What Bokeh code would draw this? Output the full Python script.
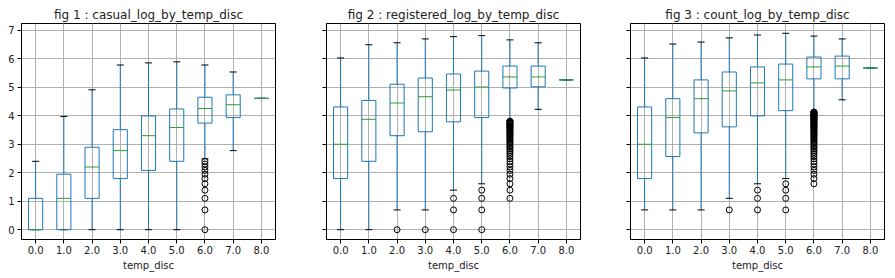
from bokeh.plotting import figure
from bokeh.layouts import row
from bokeh.models import Range1d, FixedTicker
from bokeh.embed import file_html
from bokeh.resources import INLINE

categories = [0, 1, 2, 3, 4, 5, 6, 7, 8]
tick_labels = ["0.0", "1.0", "2.0", "3.0", "4.0", "5.0", "6.0", "7.0", "8.0"]
y_ticks = [0, 1, 2, 3, 4, 5, 6, 7]

# fig 1 : casual
casual_lo = [0, 0, 0, 0, 0, 0, 2.4849, 2.7726, 4.6052]
casual_q1 = [0, 0, 1.0986, 1.7918, 2.0794, 2.3979, 3.7377, 3.9318, 4.6052]
casual_med = [0, 1.0986, 2.1972, 2.7726, 3.2958, 3.5835, 4.2485, 4.3820, 4.6052]
casual_q3 = [1.0986, 1.9459, 2.8904, 3.5066, 3.9890, 4.2341, 4.6444, 4.7274, 4.6052]
casual_hi = [2.3979, 3.9703, 4.9053, 5.7746, 5.8493, 5.8861, 5.7746, 5.5294, 4.6052]
casual_fliers = {
    6: [0.0, 0.6931, 1.0986, 1.3863, 1.6094, 1.7918, 1.9459, 2.0794, 2.1972, 2.3026, 2.3979],
}

# fig 2 : registered
registered_lo = [0, 0, 0.6931, 0.6931, 1.3863, 1.6094, 3.8286, 4.2195, 5.2523]
registered_q1 = [1.7918, 2.3979, 3.2958, 3.4340, 3.7842, 3.9318, 4.9698, 5.0106, 5.2523]
registered_med = [2.9957, 3.8712, 4.4427, 4.6634, 4.8978, 5.0039, 5.3566, 5.3566, 5.2523]
registered_q3 = [4.3041, 4.5326, 5.0999, 5.3181, 5.4596, 5.5607, 5.7366, 5.7366, 5.2523]
registered_hi = [6.0210, 6.4846, 6.5539, 6.6896, 6.7685, 6.8035, 6.6554, 6.5539, 5.2523]
registered_fliers = {
    2: [0.0],
    3: [0.0],
    4: [0.0, 0.6931, 1.0986],
    5: [0.0, 0.6931, 1.0986, 1.3863],
    6: [1.0986, 1.3863, 1.6094, 1.7918, 1.9459, 2.0794, 2.1972, 2.3026, 2.3979,
        2.4849, 2.5649, 2.6391, 2.7081, 2.7726, 2.8332, 2.8904, 2.9444, 2.9957,
        3.0445, 3.0910, 3.1355, 3.1781, 3.2189, 3.2581, 3.2958, 3.3322, 3.3673,
        3.4012, 3.4340, 3.4657, 3.4965, 3.5264, 3.5553, 3.5835, 3.6109, 3.6376,
        3.6636, 3.6889, 3.7136, 3.7377, 3.7612, 3.7842, 3.8067],
}

# fig 3 : count
count_lo = [0.6931, 0.6931, 0.6931, 1.0986, 1.6094, 1.7918, 4.1431, 4.5539, 5.6664]
count_q1 = [1.7918, 2.5649, 3.3945, 3.6055, 3.9890, 4.1744, 5.2883, 5.2883, 5.6664]
count_med = [2.9957, 3.9318, 4.5951, 4.8675, 5.1475, 5.2523, 5.7071, 5.7366, 5.6664]
count_q3 = [4.3041, 4.5951, 5.2523, 5.5294, 5.7071, 5.8081, 6.0544, 6.0868, 5.6664]
count_hi = [6.0210, 6.5103, 6.5793, 6.7250, 6.8265, 6.8865, 6.7890, 6.6896, 5.6664]
count_fliers = {
    3: [0.6931],
    4: [0.6931, 1.0986, 1.3863],
    5: [0.6931, 1.0986, 1.3863, 1.6094],
    6: [1.6094, 1.7918, 1.9459, 2.0794, 2.1972, 2.3026, 2.3979, 2.4849, 2.5649,
        2.6391, 2.7081, 2.7726, 2.8332, 2.8904, 2.9444, 2.9957, 3.0445, 3.0910,
        3.1355, 3.1781, 3.2189, 3.2581, 3.2958, 3.3322, 3.3673, 3.4012, 3.4340,
        3.4657, 3.4965, 3.5264, 3.5553, 3.5835, 3.6109, 3.6376, 3.6636, 3.6889,
        3.7136, 3.7377, 3.7612, 3.7842, 3.8067, 3.8286, 3.8501, 3.8712, 3.8918,
        3.9120, 3.9318, 3.9512, 3.9703, 3.9890, 4.0073, 4.0254, 4.0431, 4.0604,
        4.0775, 4.0943, 4.1109, 4.1271],
}

BLUE = "#1f77b4"
GREEN = "#2ca02c"
FONT = "DejaVu Sans"
TXT = "#222222"

y_range = Range1d(-0.344, 7.23)


def make_panel(title, lo, q1, med, q3, hi, fliers, left, right, show_labels):
    p = figure(frame_width=254, frame_height=216,
               min_border_left=left, min_border_right=right,
               min_border_top=23, min_border_bottom=39,
               x_range=Range1d(-0.5, 8.5), y_range=y_range,
               output_backend="svg", toolbar_location=None, title=title)
    p.title.text_font = FONT
    p.title.text_font_size = "12px"
    p.title.text_font_style = "normal"
    p.title.text_color = TXT
    p.title.align = "center"
    p.title.standoff = 4

    p.outline_line_color = "black"
    p.outline_line_alpha = 1
    p.outline_line_width = 1
    p.background_fill_color = "white"
    p.border_fill_color = "white"

    for ax in (p.xaxis[0], p.yaxis[0]):
        ax.axis_line_color = "black"
        ax.major_tick_line_color = "black"
        ax.major_tick_out = 4
        ax.major_tick_in = 0
        ax.minor_tick_out = 0
        ax.minor_tick_in = 0
        ax.major_label_text_font = FONT
        ax.major_label_text_font_size = "10px"
        ax.major_label_text_color = TXT
        ax.major_label_standoff = 3

    p.xaxis.ticker = FixedTicker(ticks=categories)
    p.xaxis.major_label_overrides = {c: t for c, t in zip(categories, tick_labels)}
    p.xaxis.axis_label = "temp_disc"
    p.xaxis.axis_label_text_font = FONT
    p.xaxis.axis_label_text_font_size = "10px"
    p.xaxis.axis_label_text_font_style = "normal"
    p.xaxis.axis_label_text_color = TXT
    p.xaxis.axis_label_standoff = 3
    p.xaxis.major_label_standoff = 2

    p.yaxis.ticker = FixedTicker(ticks=y_ticks)
    if not show_labels:
        p.yaxis.major_label_text_font_size = "0px"
        p.yaxis.major_label_text_alpha = 0

    p.xgrid.ticker = FixedTicker(ticks=categories)
    p.ygrid.ticker = FixedTicker(ticks=y_ticks)
    for g in (p.xgrid[0], p.ygrid[0]):
        g.grid_line_color = "#b0b0b0"
        g.grid_line_width = 1

    x = categories
    xl = [c - 0.25 for c in x]
    xr = [c + 0.25 for c in x]
    cl = [c - 0.125 for c in x]
    cr = [c + 0.125 for c in x]

    # whiskers
    p.segment(x0=x, y0=q1, x1=x, y1=lo, line_color=BLUE, line_width=1)
    p.segment(x0=x, y0=q3, x1=x, y1=hi, line_color=BLUE, line_width=1)
    # caps
    p.segment(x0=cl, y0=lo, x1=cr, y1=lo, line_color="black", line_width=1)
    p.segment(x0=cl, y0=hi, x1=cr, y1=hi, line_color="black", line_width=1)
    # boxes
    p.quad(left=xl, right=xr, bottom=q1, top=q3, fill_color=None,
           line_color=BLUE, line_width=1)
    # medians
    p.segment(x0=xl, y0=med, x1=xr, y1=med, line_color=GREEN, line_width=1)
    # fliers
    fx, fy = [], []
    for c, vals in fliers.items():
        fx += [c] * len(vals)
        fy += vals
    p.scatter(x=fx, y=fy, marker="circle", size=6, fill_color=None,
              line_color="black", line_width=1)
    return p


p1 = make_panel("fig 1 : casual_log_by_temp_disc", casual_lo, casual_q1, casual_med,
                casual_q3, casual_hi, casual_fliers, 21, 25, True)
p2 = make_panel("fig 2 : registered_log_by_temp_disc", registered_lo, registered_q1,
                registered_med, registered_q3, registered_hi, registered_fliers, 26, 25, False)
p3 = make_panel("fig 3 : count_log_by_temp_disc", count_lo, count_q1, count_med,
                count_q3, count_hi, count_fliers, 25, 11, False)

layout = row(p1, p2, p3)
open("out.html", "w").write(file_html(layout, INLINE))
